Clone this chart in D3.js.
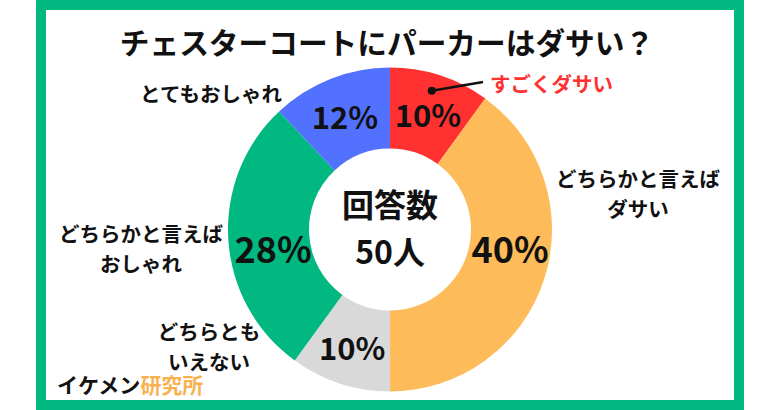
<!DOCTYPE html>
<html><head><meta charset="utf-8">
<script src="https://cdn.jsdelivr.net/npm/d3@7"></script>
<style>body{margin:0;background:#fff}svg{display:block}text{font-family:"Noto Sans CJK JP","Noto Sans",sans-serif;font-weight:700}</style>
</head><body><svg id="c" width="780" height="410"></svg>
<script>
const categories = ["すごくダサい","どちらかと言えばダサい","どちらともいえない","どちらかと言えばおしゃれ","とてもおしゃれ"];
const values = [10, 40, 10, 28, 12];
const colors = ["#FF3131","#FDBB5A","#D9D9D9","#02B881","#5271FF"];
const outerLabels = [["すごくダサい"],["どちらかと言えば","ダサい"],["どちらとも","いえない"],["どちらかと言えば","おしゃれ"],["とてもおしゃれ"]];
const title = "チェスターコートにパーカーはダサい？";
const centerLines = ["回答数","50人"];

const svg = d3.select("#c");
const W = 780, H = 410;
svg.append("rect").attr("width",W).attr("height",H).attr("fill","#fff");
svg.append("rect").attr("x",41).attr("y",5).attr("width",698).attr("height",400)
  .attr("fill","none").attr("stroke","#02B881").attr("stroke-width",10);

svg.append("text").attr("x",387).attr("y",41).attr("text-anchor","middle")
  .attr("dominant-baseline","central").attr("font-size",29.7).attr("fill","#111").text(title);

const cx = 390, cy = 229.5, rO = 162, rI = 81;
const g = svg.append("g").attr("transform",`translate(${cx},${cy})`);
const pie = d3.pie().sort(null).value(d=>d);
const arcs = pie(values);
const arc = d3.arc().innerRadius(rI).outerRadius(rO);
g.selectAll("path").data(arcs).join("path").attr("d",arc).attr("fill",(d,i)=>colors[i]);

const lblArc = d3.arc().innerRadius(rI).outerRadius(rO+2);
g.selectAll("text.pct").data(arcs).join("text").attr("class","pct")
  .each(function(d){
    let [x,y] = lblArc.centroid(d);
    if (d.value >= 25) { x = Math.sign(x)*118.5 + 1.5; y = 17.5; }
    d3.select(this).attr("x",x).attr("y",y);
  })
  .attr("text-anchor","middle").attr("dominant-baseline","central")
  .attr("font-size",d=>d.value>=25?36:31).attr("font-weight",500).attr("fill","#111")
  .text(d=>d.value+"%");

// center text
g.append("text").attr("x",0).attr("y",-27).attr("text-anchor","middle").attr("dominant-baseline","central")
  .attr("font-size",32).attr("fill","#111").text(centerLines[0]);
g.append("text").attr("x",0).attr("y",20).attr("text-anchor","middle").attr("dominant-baseline","central")
  .attr("font-size",32).attr("font-weight",500).attr("fill","#111").text(centerLines[1]);

// outer labels
const labelPos = [[490,83,"start"],[638,178],[209,331],[141,233],[211,93]];
outerLabels.forEach((lines,i)=>{
  const p = labelPos[i];
  const t = svg.append("text").attr("text-anchor",p[2]||"middle").attr("font-size",20.5)
    .attr("fill", i===0 ? "#FF3131" : "#111");
  lines.forEach((ln,j)=>{
    t.append("tspan").attr("x", p[0]).attr("y",p[1]+j*30).attr("dominant-baseline","central").text(ln);
  });
});

// leader for first slice
const a0 = arcs[0];
const mid = (a0.startAngle+a0.endAngle)/2*0.93;
const dotX = cx + 145*Math.sin(mid), dotY = cy - 145*Math.cos(mid);
svg.append("line").attr("x1",dotX).attr("y1",dotY).attr("x2",483).attr("y2",82)
  .attr("stroke","#111").attr("stroke-width",2.5);
svg.append("circle").attr("cx",dotX).attr("cy",dotY).attr("r",4).attr("fill","#111");

// brand
const b = svg.append("text").attr("x",57).attr("y",384).attr("dominant-baseline","central").attr("font-size",21);
b.append("tspan").attr("fill","#111").text("イケメン");
b.append("tspan").attr("fill","#F7B150").text("研究所");
</script></body></html>
